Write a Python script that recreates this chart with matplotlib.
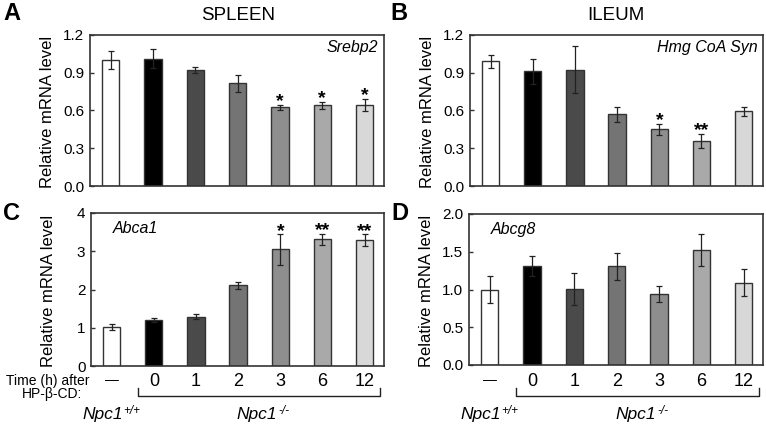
import matplotlib
matplotlib.use("Agg")
import matplotlib.pyplot as plt
from matplotlib.transforms import blended_transform_factory

plt.rcParams['font.family'] = ['Liberation Sans', 'DejaVu Sans']

groups = ["—", "0", "1", "2", "3", "6", "12"]
colors = ["#ffffff", "#000000", "#4a4a4a", "#747474", "#8e8e8e", "#a9a9a9", "#d8d8d8"]

spleen_srebp2 = [1.00, 1.01, 0.92, 0.815, 0.625, 0.64, 0.645]
spleen_srebp2_err = [0.07, 0.075, 0.025, 0.07, 0.02, 0.03, 0.05]
spleen_srebp2_sig = ["", "", "", "", "*", "*", "*"]

ileum_hmg = [0.99, 0.91, 0.925, 0.57, 0.45, 0.36, 0.595]
ileum_hmg_err = [0.055, 0.10, 0.185, 0.06, 0.045, 0.055, 0.035]
ileum_hmg_sig = ["", "", "", "", "*", "**", ""]

spleen_abca1 = [1.02, 1.20, 1.29, 2.11, 3.05, 3.31, 3.29]
spleen_abca1_err = [0.08, 0.06, 0.06, 0.09, 0.40, 0.15, 0.15]
spleen_abca1_sig = ["", "", "", "", "*", "**", "**"]

ileum_abcg8 = [1.00, 1.31, 1.01, 1.31, 0.94, 1.52, 1.09]
ileum_abcg8_err = [0.18, 0.13, 0.21, 0.18, 0.11, 0.21, 0.18]
ileum_abcg8_sig = ["", "", "", "", "", "", ""]

W, H = 766, 425
fig = plt.figure(figsize=(W/100, H/100), dpi=100)

def px_axes(l, t, r, b):
    return fig.add_axes([l/W, 1-b/H, (r-l)/W, (b-t)/H])

frame_col = "#333333"

def panel(ax, vals, errs, sigs, ylim, yticks, yfmt, gene, gene_right, star_off):
    x = list(range(len(vals)))
    ax.bar(x, vals, width=0.41, color=colors, edgecolor=frame_col, linewidth=1.0, zorder=2)
    ax.errorbar(x, vals, yerr=errs, fmt="none", ecolor="#222222", elinewidth=0.9, capsize=2.5, capthick=0.9, zorder=3)
    for xi, v, e, s in zip(x, vals, errs, sigs):
        if s:
            ax.text(xi, v + e + star_off, s, ha="center", va="bottom", fontsize=14, fontweight="bold")
    ax.set_xlim(-0.49, 6.46)
    ax.set_ylim(*ylim)
    ax.set_yticks(yticks)
    ax.set_yticklabels([yfmt.format(t) for t in yticks], fontsize=11)
    ax.set_xticks([])
    ax.tick_params(axis="y", direction="in", length=3, width=1, color=frame_col, pad=4)
    for sp in ax.spines.values():
        sp.set_color(frame_col)
        sp.set_linewidth(1.2)
    ax.set_ylabel("Relative mRNA level", fontsize=12)
    ax.yaxis.label.set_verticalalignment("center")
    ax.yaxis.set_label_coords(-0.146, 0.49)
    if gene_right:
        ax.text(0.98, 0.915, gene, transform=ax.transAxes, ha="right", va="center", fontsize=11.5, style="italic")
    else:
        ax.text(0.075, 0.9, gene, transform=ax.transAxes, ha="left", va="center", fontsize=11.5, style="italic")

axA = px_axes(90, 35, 384, 186)
panel(axA, spleen_srebp2, spleen_srebp2_err, spleen_srebp2_sig, (0, 1.2), [0, 0.3, 0.6, 0.9, 1.2], "{:.1f}", "Srebp2", True, -0.045)
axB = px_axes(470, 35, 763, 186)
panel(axB, ileum_hmg, ileum_hmg_err, ileum_hmg_sig, (0, 1.2), [0, 0.3, 0.6, 0.9, 1.2], "{:.1f}", "Hmg CoA Syn", True, -0.045)
axC = px_axes(91, 213, 384, 366)
panel(axC, spleen_abca1, spleen_abca1_err, spleen_abca1_sig, (0, 4), [0, 1, 2, 3, 4], "{:.0f}", "Abca1", False, -0.15)
axD = px_axes(469, 214, 763, 365)
panel(axD, ileum_abcg8, ileum_abcg8_err, ileum_abcg8_sig, (0, 2.0), [0, 0.5, 1.0, 1.5, 2.0], "{:.1f}", "Abcg8", False, -0.075)

# Titles and panel letters
fig.text(238/W, 1-15/H, "SPLEEN", ha="center", va="center", fontsize=13.5)
fig.text(616/W, 1-15/H, "ILEUM", ha="center", va="center", fontsize=13.5)
for lab, xp, yp in [("A", 12, 13), ("B", 399, 13), ("C", 12, 213), ("D", 400, 213)]:
    fig.text(xp/W, 1-yp/H, lab, ha="center", va="center", fontsize=17, fontweight="bold")

renderer = fig.canvas.get_renderer()

def genotype(ax, tr, xc, label, sup):
    t = ax.text(xc, 1-414/H, label, transform=tr, ha="center", va="center", fontsize=12.5,
                style="italic", clip_on=False)
    bb = t.get_window_extent(renderer)
    fig.text((bb.x1 + 1) / W, (bb.y1 + 1) / H, sup, ha="left", va="top", fontsize=8.5, style="italic")

# bottom category labels and brackets
for ax in (axC, axD):
    tr = blended_transform_factory(ax.transData, fig.transFigure)
    for i, g in enumerate(groups):
        if g == "—":
            ax.text(i, 1-380/H, g, transform=tr, ha="center", va="center", fontsize=10, clip_on=False)
        else:
            ax.text(i, 1-382/H, g, transform=tr, ha="center", va="center", fontsize=13, clip_on=False)
    yb = 1-396/H
    yt = 1-388/H
    ax.plot([0.62, 0.62, 6.36, 6.36], [yt, yb, yb, yt], transform=tr, color="#222222", lw=1.0, clip_on=False)
    genotype(ax, tr, -0.22, "Npc1", "+/+")
    genotype(ax, tr, 3.45, "Npc1", "-/-")

fig.text(90/W, 1-380.5/H, "Time (h) after", ha="right", va="center", fontsize=10)
fig.text(82/W, 1-394/H, "HP-β-CD:", ha="right", va="center", fontsize=10)

fig.savefig("out.png", dpi=100)
